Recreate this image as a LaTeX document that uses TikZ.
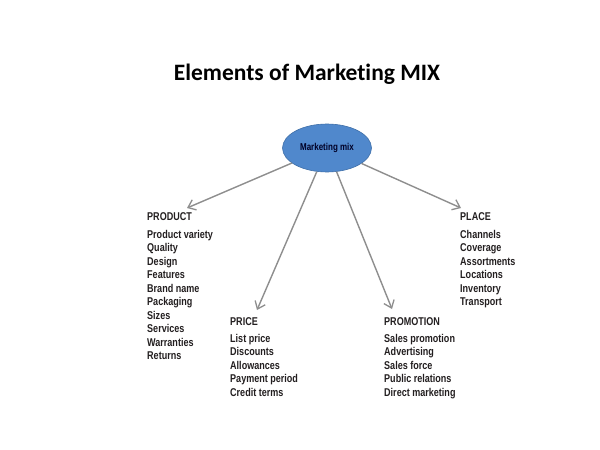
\documentclass[tikz,border=0pt]{standalone}
\usepackage{fontspec}
\setmainfont{Liberation Sans}
\newfontfamily\titlefont[Ligatures=NoCommon]{Carlito}
\newfontfamily\condfont[FakeStretch=0.8]{Liberation Sans}
\usetikzlibrary{arrows.meta,shapes.geometric}
\definecolor{txt}{HTML}{231F20}
\definecolor{ellfill}{HTML}{5088CC}
\definecolor{elldraw}{HTML}{3F6FA8}
\definecolor{arr}{HTML}{8E8E8E}
\tikzset{
  head/.style={anchor=north west,inner sep=0pt,text=txt,font=\condfont\bfseries\fontsize{11.3}{13.4}\selectfont},
  items/.style={anchor=north west,inner sep=0pt,align=left,text=txt,font=\condfont\bfseries\fontsize{11.3}{13.5}\selectfont},
  conn/.style={draw=arr,line width=1.4pt,-{Straight Barb[length=7pt,width=11pt,line width=1.3pt]},shorten >=0pt}
}
\begin{document}
\begin{tikzpicture}[x=1pt,y=-1pt]
\useasboundingbox (0,0) rectangle (600,450);
\fill[white] (0,0) rectangle (600,450);
\node[font=\titlefont\bfseries\fontsize{23.5}{28}\selectfont,text=black] (title) at (307,74) {Elements of Marketing MIX};
\node[ellipse,fill=ellfill,draw=elldraw,line width=0.6pt,minimum width=89pt,minimum height=48pt,inner sep=0pt,
  font=\condfont\bfseries\fontsize{10}{12}\selectfont,text=black!85!blue] (mm) at (327,148) {Marketing mix};
% PRODUCT
\node[head] (product) at (147,212) {PRODUCT};
\node[items] (productl) at (147,230) {Product variety\\Quality\\Design\\Features\\Brand name\\Packaging\\Sizes\\Services\\Warranties\\Returns};
% PRICE
\node[head] (price) at (230,317) {PRICE};
\node[items] (pricel) at (230,334) {List price\\Discounts\\Allowances\\Payment period\\Credit terms};
% PROMOTION
\node[head] (promo) at (384,317) {PROMOTION};
\node[items] (promol) at (384,334) {Sales promotion\\Advertising\\Sales force\\Public relations\\Direct marketing};
% PLACE
\node[head] (place) at (460,212) {PLACE};
\node[items] (placel) at (460,230) {Channels\\Coverage\\Assortments\\Locations\\Inventory\\Transport};
% arrow tips
\coordinate (tprod) at (187,208);
\coordinate (tprice) at (257,310);
\coordinate (tpromo) at (392,309);
\coordinate (tplace) at (461,208);
\draw[conn] (mm) -- (tprod);
\draw[conn] (mm) -- (tprice);
\draw[conn] (mm) -- (tpromo);
\draw[conn] (mm) -- (tplace);
\end{tikzpicture}
\end{document}
